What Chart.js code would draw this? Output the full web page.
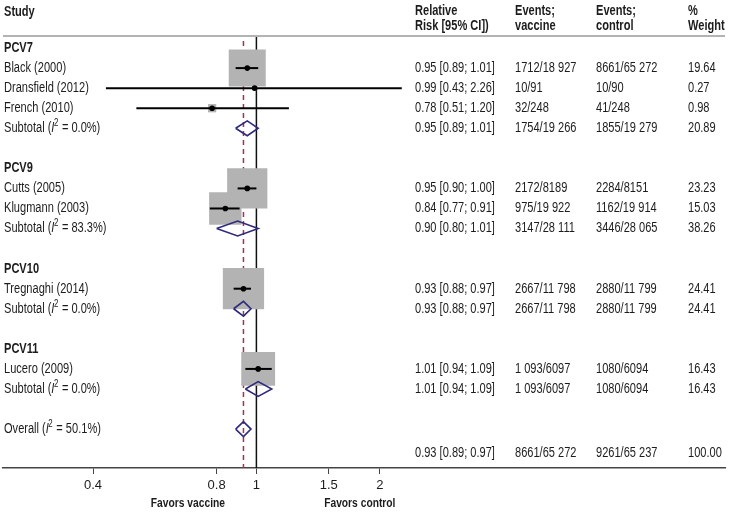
<!DOCTYPE html>
<html>
<head>
<meta charset="utf-8">
<script src="https://cdn.jsdelivr.net/npm/chart.js@4/dist/chart.umd.min.js"></script>
<style>
  html, body { margin: 0; padding: 0; background: #fff; }
  #wrap { width: 729px; height: 515px; }
</style>
</head>
<body>
<div id="wrap"><canvas id="forest" width="729" height="515"></canvas></div>
<script>
// studies
const studyNames = ['Black (2000)', 'Dransfield (2012)', 'French (2010)', 'Cutts (2005)', 'Klugmann (2003)', 'Tregnaghi (2014)', 'Lucero (2009)'];
const studyRows = [1, 2, 3, 7, 8, 12, 16];
const studyRR = [0.95, 0.99, 0.78, 0.95, 0.84, 0.93, 1.01];
const studyLow = [0.89, 0.43, 0.51, 0.90, 0.77, 0.88, 0.94];
const studyHigh = [1.01, 2.26, 1.20, 1.00, 0.91, 0.97, 1.09];
const studyWeight = [19.64, 0.27, 0.98, 23.23, 15.03, 24.41, 16.43];
const studyVaccine = ['1712/18 927', '10/91', '32/248', '2172/8189', '975/19 922', '2667/11 798', '1 093/6097'];
const studyControl = ['8661/65 272', '10/90', '41/248', '2284/8151', '1162/19 914', '2880/11 799', '1080/6094'];

// groups and subtotals
const groupNames = ['PCV7', 'PCV9', 'PCV10', 'PCV11'];
const groupRows = [0, 6, 11, 15];
const subRows = [4, 9, 13, 17];
const subI2 = ['0.0%', '83.3%', '0.0%', '0.0%'];
const subRR = [0.95, 0.90, 0.93, 1.01];
const subLow = [0.89, 0.80, 0.88, 0.94];
const subHigh = [1.01, 1.01, 0.97, 1.09];
const subWeight = [20.89, 38.26, 24.41, 16.43];
const subVaccine = ['1754/19 266', '3147/28 111', '2667/11 798', '1 093/6097'];
const subControl = ['1855/19 279', '3446/28 065', '2880/11 799', '1080/6094'];

// overall
const overallRow = 19;
const overallNumRow = 20.2;
const overallI2 = '50.1%';
const overallRR = 0.93;
const overallLow = 0.89;
const overallHigh = 0.97;
const overallWeight = 100.00;
const overallVaccine = '8661/65 272';
const overallControl = '9261/65 237';

const xTicks = [0.4, 0.8, 1, 1.5, 2];

const FONT = '"Liberation Sans", Arial, sans-serif';
const SX = 0.79; // narrow the text like the condensed face in the original
const TEXT = '#1c1c1c';
const Y_MIN = -0.6, Y_MAX = 20.94;
const DIAMOND_H = 0.37;

const fmtRR = (r, l, h) => `${r.toFixed(2)} [${l.toFixed(2)}; ${h.toFixed(2)}]`;

const datasets = [];

// reference lines
datasets.push({
    data: [{ x: 1, y: Y_MIN }, { x: 1, y: Y_MAX }],
    showLine: true, borderColor: '#111', borderWidth: 1.5, pointRadius: 0, order: 20
});
datasets.push({
    data: [{ x: overallRR, y: -0.35 }, { x: overallRR, y: Y_MAX }],
    showLine: true, borderColor: '#a3304f', borderWidth: 1.5, borderDash: [5, 4], pointRadius: 0, order: 19
});

// weight squares
datasets.push({
    data: studyRR.map((rr, i) => ({ x: rr, y: studyRows[i] })),
    pointStyle: 'rect',
    pointRadius: studyWeight.map(w => 8.35 * Math.sqrt(w) / Math.SQRT2),
    backgroundColor: '#b3b3b3', borderWidth: 0, order: 15
});

// CI lines
studyRR.forEach((rr, i) => {
    datasets.push({
        data: [{ x: studyLow[i], y: studyRows[i] }, { x: studyHigh[i], y: studyRows[i] }],
        showLine: true, borderColor: '#000', borderWidth: 2, pointRadius: 0, order: 10
    });
});

// point estimates
datasets.push({
    data: studyRR.map((rr, i) => ({ x: rr, y: studyRows[i] })),
    pointStyle: 'circle', pointRadius: 2.8, backgroundColor: '#000', borderWidth: 0, order: 5
});

// diamonds
function diamond(rr, lo, hi, row) {
    return {
        data: [
            { x: lo, y: row }, { x: rr, y: row - DIAMOND_H }, { x: hi, y: row },
            { x: rr, y: row + DIAMOND_H }, { x: lo, y: row }
        ],
        showLine: true, borderColor: '#2e2a7b', borderWidth: 1.6, pointRadius: 0,
        fill: false, tension: 0, order: 3
    };
}
subRR.forEach((rr, i) => datasets.push(diamond(rr, subLow[i], subHigh[i], subRows[i])));
datasets.push(diamond(overallRR, overallLow, overallHigh, overallRow));

const COL_STUDY = 4, COL_RR = 415, COL_VAC = 515, COL_CTRL = 596, COL_W = 688;

// draws narrowed text, returns its drawn width
function txt(ctx, s, x, y, font, align) {
    ctx.font = font;
    const w = ctx.measureText(s).width * SX;
    let x0 = x;
    if (align === 'center') x0 = x - w / 2;
    ctx.save();
    ctx.translate(x0, y);
    ctx.scale(SX, 1);
    ctx.textAlign = 'left';
    ctx.fillText(s, 0, 0);
    ctx.restore();
    return w;
}

function drawI2Label(ctx, prefix, value, x, y) {
    x += txt(ctx, prefix + ' (', x, y, `14px ${FONT}`);
    x += txt(ctx, 'I', x, y, `italic 14px ${FONT}`);
    x += txt(ctx, '2', x - 0.5, y - 5, `10px ${FONT}`);
    txt(ctx, ' = ' + value + ')', x, y, `14px ${FONT}`);
}

const tablePlugin = {
    id: 'tableText',
    afterDraw(chart) {
        const ctx = chart.ctx;
        const ys = chart.scales.y;
        const xs = chart.scales.x;
        const area = chart.chartArea;
        ctx.save();

        // header rule
        ctx.strokeStyle = '#b3b3b3';
        ctx.lineWidth = 2;
        ctx.beginPath();
        ctx.moveTo(area.left, area.top);
        ctx.lineTo(area.right, area.top);
        ctx.stroke();

        ctx.fillStyle = TEXT;
        ctx.textBaseline = 'middle';

        const B = `bold 14px ${FONT}`;
        const N = `14px ${FONT}`;

        // header
        txt(ctx, 'Study', COL_STUDY, 12, B);
        txt(ctx, 'Relative', COL_RR, 11, B);
        txt(ctx, 'Risk [95% CI])', COL_RR, 26, B);
        txt(ctx, 'Events;', COL_VAC, 11, B);
        txt(ctx, 'vaccine', COL_VAC, 26, B);
        txt(ctx, 'Events;', COL_CTRL, 11, B);
        txt(ctx, 'control', COL_CTRL, 26, B);
        txt(ctx, '%', COL_W, 11, B);
        txt(ctx, 'Weight', COL_W, 26, B);

        groupNames.forEach((g, i) => txt(ctx, g, COL_STUDY, ys.getPixelForValue(groupRows[i]), B));

        studyNames.forEach((name, i) => {
            const y = ys.getPixelForValue(studyRows[i]);
            txt(ctx, name, COL_STUDY, y, N);
            txt(ctx, fmtRR(studyRR[i], studyLow[i], studyHigh[i]), COL_RR, y, N);
            txt(ctx, studyVaccine[i], COL_VAC, y, N);
            txt(ctx, studyControl[i], COL_CTRL, y, N);
            txt(ctx, studyWeight[i].toFixed(2), COL_W, y, N);
        });

        subRows.forEach((row, i) => {
            const y = ys.getPixelForValue(row);
            drawI2Label(ctx, 'Subtotal', subI2[i], COL_STUDY, y);
            txt(ctx, fmtRR(subRR[i], subLow[i], subHigh[i]), COL_RR, y, N);
            txt(ctx, subVaccine[i], COL_VAC, y, N);
            txt(ctx, subControl[i], COL_CTRL, y, N);
            txt(ctx, subWeight[i].toFixed(2), COL_W, y, N);
        });

        drawI2Label(ctx, 'Overall', overallI2, COL_STUDY, ys.getPixelForValue(overallRow));
        const yo = ys.getPixelForValue(overallNumRow);
        txt(ctx, fmtRR(overallRR, overallLow, overallHigh), COL_RR, yo, N);
        txt(ctx, overallVaccine, COL_VAC, yo, N);
        txt(ctx, overallControl, COL_CTRL, yo, N);
        txt(ctx, overallWeight.toFixed(2), COL_W, yo, N);

        // favours labels
        txt(ctx, 'Favors vaccine', xs.getPixelForValue(0.681), 503, `bold 13px ${FONT}`, 'center');
        txt(ctx, 'Favors control', xs.getPixelForValue(1.786), 503, `bold 13px ${FONT}`, 'center');
        ctx.restore();
    }
};

new Chart(document.getElementById('forest'), {
    type: 'scatter',
    data: { datasets },
    options: {
        responsive: false,
        animation: false,
        events: [],
        layout: { autoPadding: false, padding: { top: 36, left: 3, right: 4, bottom: 0 } },
        elements: { line: { tension: 0 } },
        plugins: { legend: { display: false }, tooltip: { enabled: false } },
        scales: {
            x: {
                type: 'logarithmic',
                min: 0.2414,
                max: 13.85,
                bounds: 'data',
                afterBuildTicks: s => { s.ticks = xTicks.map(v => ({ value: v })); },
                afterFit: s => { s.height = 47; },
                ticks: {
                    autoSkip: false, maxRotation: 0, padding: 4,
                    color: TEXT, font: { family: FONT, size: 13 },
                    callback: v => String(v)
                },
                grid: { drawOnChartArea: false, drawTicks: true, tickLength: 6, color: '#444', lineWidth: 1 },
                border: { display: true, color: '#444', width: 1.5 }
            },
            y: {
                type: 'linear', reverse: true, min: Y_MIN, max: Y_MAX, display: false
            }
        }
    },
    plugins: [tablePlugin]
});
</script>
</body>
</html>
